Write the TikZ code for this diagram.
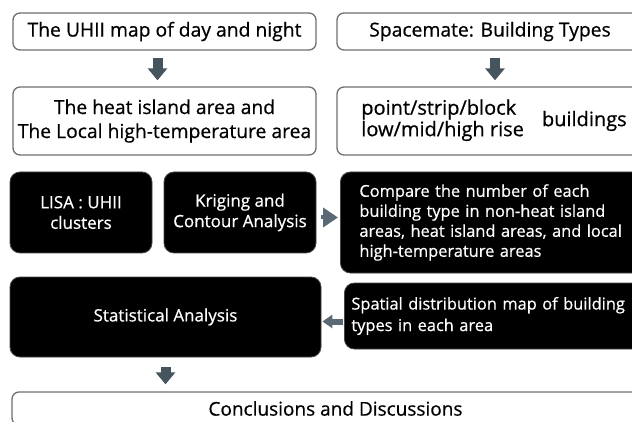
\documentclass[tikz,border=0pt]{standalone}
\usepackage{fontspec}
\setmainfont{Open Sans}[FakeBold=0.6]
\usetikzlibrary{arrows.meta}
\definecolor{arrowc}{RGB}{70,84,93}
\definecolor{arrowl}{RGB}{90,105,115}
\definecolor{edgec}{RGB}{112,112,112}
\definecolor{bedge}{RGB}{70,70,70}
\begin{document}
\begin{tikzpicture}[x=1pt,y=-1pt,
  wbox/.style={draw=edgec, line width=1.3pt, rounded corners=7pt, fill=white,
    inner sep=0pt, align=center},
  bbox/.style={draw=bedge, line width=0.8pt, fill=black, text=white,
    rounded corners=10pt, inner sep=0pt, align=center,
    font=\fontsize{17}{20.5}\selectfont},
  arr/.style={arrowc, line width=10pt, -{Triangle[width=19pt,length=12pt]}}]
\useasboundingbox (0,0) rectangle (632,422);
\clip (0,0) rectangle (632,422);

% top row
\node[wbox, minimum width=303pt, minimum height=37pt,
  font=\fontsize{19.3}{24}\selectfont] (uhii) at (164.5,31.5)
  {The UHII map of day and night};
\node[wbox, minimum width=306pt, minimum height=37pt,
  font=\fontsize{19.3}{24}\selectfont] (space) at (490,31.5)
  {Spacemate: Building Types};

% second row
\node[wbox, minimum width=303pt, minimum height=68pt,
  font=\fontsize{19.3}{24}\selectfont] (heat) at (164.5,121)
  {The heat island area and\\The Local high-temperature area};
\node[wbox, minimum width=314pt, minimum height=68pt,
  font=\fontsize{20}{21}\selectfont] (types) at (494,121)
  {\begin{tabular}{@{}l@{}}point/strip/block\\low/mid/high rise\end{tabular}\hspace{18pt}buildings};

% black boxes
\node[bbox, minimum width=142pt, minimum height=81pt] (lisa) at (81,212.5)
  {LISA : UHII\\clusters};
\node[bbox, minimum width=152pt, minimum height=81pt] (krig) at (240,212.5)
  {Kriging and\\Contour Analysis};
\node[bbox, anchor=west, align=left, text width=300pt, inner xsep=19pt,
  minimum height=101pt, font=\fontsize{16.4}{20}\selectfont] (comp) at (340,222.5)
  {Compare the number of each\\building type in non-heat island\\areas, heat island areas, and local\\high-temperature areas};
\node[bbox, minimum width=311pt, minimum height=80pt] (stat) at (165.5,317)
  {Statistical Analysis};
\node[bbox, anchor=west, align=left, text width=330pt, inner xsep=7pt,
  minimum height=66pt, font=\fontsize{16.4}{21.5}\selectfont] (spat) at (344,316)
  {Spatial distribution map of building\\types in each area};

% bottom box
\node[wbox, minimum width=647pt, minimum height=33pt,
  font=\fontsize{19}{24}\selectfont] (concl) at (335.5,408.5)
  {Conclusions and Discussions};

% arrows
\draw[arr, shorten <=7pt, shorten >=6pt]
  ([xshift=-7pt]uhii.south) -- ([xshift=-7pt]uhii.south |- heat.north);
\draw[arr, shorten <=7pt, shorten >=6pt]
  ([xshift=5pt]space.south) -- ([xshift=5pt]space.south |- types.north);
\draw[arr, shorten <=10pt, shorten >=7pt]
  (stat.south) -- (stat.south |- concl.north);
\draw[arrowl, line width=4pt, -{Triangle[width=19pt,length=15pt]},
  shorten <=5pt, shorten >=2pt]
  ([yshift=-5pt]krig.east) -- ([yshift=-5pt]krig.east -| comp.west);
\draw[arrowl, line width=6pt, -{Triangle[width=13pt,length=10pt]},
  shorten <=1pt, shorten >=1pt]
  ([yshift=-5.5pt]spat.west) -- ([yshift=-5.5pt]spat.west -| stat.east);
\end{tikzpicture}
\end{document}
